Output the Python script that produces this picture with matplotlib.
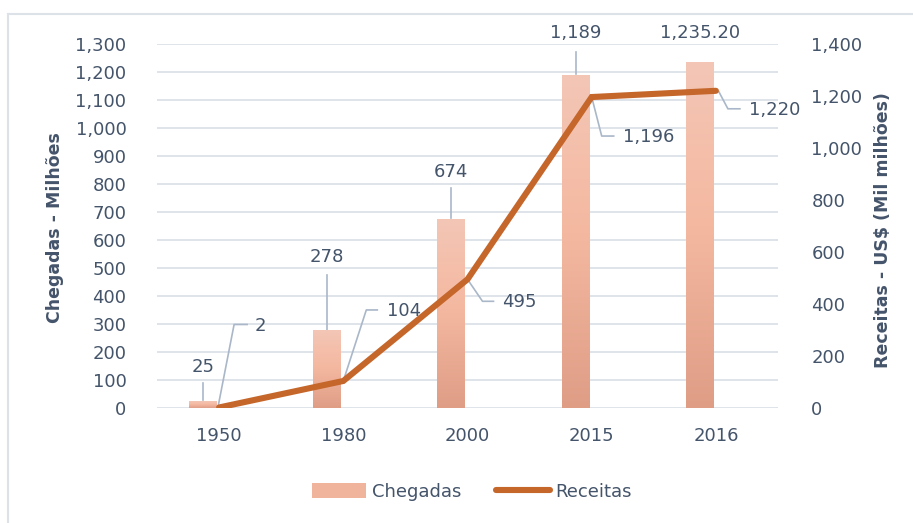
import matplotlib
matplotlib.use("Agg")
import matplotlib.pyplot as plt
import numpy as np
from matplotlib.lines import Line2D
from matplotlib.patches import Patch
from matplotlib.colors import LinearSegmentedColormap

# ---------------- data ----------------
years = ["1950", "1980", "2000", "2015", "2016"]
chegadas = [25, 278, 674, 1189, 1235.20]
receitas = [2, 104, 495, 1196, 1220]
chegadas_labels = ["25", "278", "674", "1,189", "1,235.20"]
receitas_labels = ["2", "104", "495", "1,196", "1,220"]
left_ticks = list(range(0, 1301, 100))
right_ticks = list(range(0, 1401, 200))

TXT = "#44546A"
LINE_C = "#C5662B"
LEAD_C = "#A9B7C9"
GRID_C = "#D9DEE6"
FONT = "DejaVu Sans"
FS = 13

plt.rcParams["font.family"] = [FONT]

W, H = 913, 523
fig = plt.figure(figsize=(W / 100, H / 100), dpi=100)

def px(x0, y0, x1, y1):
    return [x0 / W, 1 - y1 / H, (x1 - x0) / W, (y1 - y0) / H]

ax = fig.add_axes(px(157, 44, 778, 408))
ax2 = ax.twinx()

x = np.arange(len(years))
bw = 0.225
boff = -0.13
bars = ax.bar(x + boff, chegadas, width=bw, color="#F5BAA2", zorder=2)

ax.set_xlim(-0.5, len(years) - 0.5)
ax.set_ylim(0, 1300)
ax2.set_ylim(0, 1400)

# gradient fill inside bars (top -> bottom)
grad = np.linspace(0, 1, 256).reshape(-1, 1)
cmap = LinearSegmentedColormap.from_list(
    "g", [(0.0, "#F3C6B6"), (0.45, "#F5B9A1"), (1.0, "#DF9D86")])
for b in bars:
    x0, w, h = b.get_x(), b.get_width(), b.get_height()
    ax.imshow(grad, extent=[x0, x0 + w, 0, h], origin="upper", cmap=cmap,
              aspect="auto", zorder=2.1, interpolation="bicubic")
ax.set_xlim(-0.5, len(years) - 0.5)
ax.set_ylim(0, 1300)

ax2.plot(x, receitas, color=LINE_C, lw=4.4, solid_capstyle="round",
         solid_joinstyle="miter", zorder=3)

# axes styling
ax.set_yticks(left_ticks)
ax.set_yticklabels([f"{v:,}" for v in left_ticks])
ax2.set_yticks(right_ticks)
ax2.set_yticklabels([f"{v:,}" for v in right_ticks])
ax.set_xticks(x)
ax.set_xticklabels(years)
for a in (ax, ax2):
    for s in a.spines.values():
        s.set_visible(False)
    a.tick_params(length=0, labelsize=FS, labelcolor=TXT)
ax.tick_params(axis="y", pad=22)
ax2.tick_params(axis="y", pad=24)
ax.tick_params(axis="x", pad=14)
ax.grid(axis="y", color=GRID_C, lw=1.2, zorder=0)
ax.set_axisbelow(True)
ax.set_zorder(1)
ax2.set_zorder(2)
ax.patch.set_visible(False)

fig.text(55 / W, 1 - 228 / H, "Chegadas - Milhões", rotation=90, ha="center",
         va="center", fontsize=12.5, fontweight="bold", color=TXT)
fig.text(883 / W, 1 - 230 / H, "Receitas - US$ (Mil milhões)", rotation=90,
         ha="center", va="center", fontsize=12.5, fontweight="bold", color=TXT)

fig.canvas.draw()

def data_from_px(a, xd, yd, dx, dy):
    disp = a.transData.transform((xd, yd))
    return a.transData.inverted().transform((disp[0] + dx, disp[1] - dy))

# bar labels: (text offset dx, dy from bar top-center, leader start dy, leader end dy)
bar_lab = [(0, -34, -18, -1), (0, -73, -55, 0), (0, -47, -31, -1), (0, -42, -23, -1), (0, -29, None, None)]
for i, b in enumerate(bars):
    xc = b.get_x() + b.get_width() / 2
    h = b.get_height()
    tdx, tdy, l0, l1 = bar_lab[i]
    tx, ty = data_from_px(ax, xc, h, tdx, tdy)
    ax.text(tx, ty, chegadas_labels[i], ha="center", va="center", fontsize=FS,
            color=TXT, zorder=5)
    if l0 is not None:
        p0 = data_from_px(ax, xc, h, 0, l0)
        p1 = data_from_px(ax, xc, h, 0, l1)
        ax.plot([p0[0], p1[0]], [p0[1], p1[1]], color=LEAD_C, lw=1.2, zorder=1.5)

# line labels: leader vertices in pixel offsets, text left x offset, text y offset
line_lab = [
    ([(-1, -1), (15, -83), (28, -83)], 36, -81),
    ([(0, 0), (23, -71), (34, -71)], 44, -70),
    ([(0, 0), (15, 22), (26, 22)], 35, 23),
    ([(0, 0), (10, 39), (22, 39)], 31, 40),
    ([(3, 1), (12, 18), (24, 18)], 33, 19),
]
for i in range(len(years)):
    verts, tdx, tdy = line_lab[i]
    pts = [data_from_px(ax2, x[i], receitas[i], dx, dy) for dx, dy in verts]
    ax2.plot([p[0] for p in pts], [p[1] for p in pts], color=LEAD_C, lw=1.2,
             zorder=2.5)
    tx, ty = data_from_px(ax2, x[i], receitas[i], tdx, tdy)
    ax2.text(tx, ty, receitas_labels[i], ha="left", va="center", fontsize=FS,
             color=TXT, zorder=5)

# legend
handles = [Patch(facecolor="#F0B49D", edgecolor="none"),
           Line2D([0], [0], color=LINE_C, lw=4.4, solid_capstyle="round")]
leg = fig.legend(handles, ["Chegadas", "Receitas"], loc="center",
                 bbox_to_anchor=(472 / W, 1 - 492 / H), ncol=2, frameon=False,
                 fontsize=FS, labelcolor=TXT, handlelength=3.0, handleheight=0.9,
                 columnspacing=1.9, handletextpad=0.3)

# outer border (top and left visible)
fig.add_artist(Line2D([8 / W, 1], [1 - 14 / H, 1 - 14 / H], color="#DDE2E8", lw=1.5,
                      transform=fig.transFigure))
fig.add_artist(Line2D([8 / W, 8 / W], [0, 1 - 14 / H], color="#DDE2E8", lw=1.5,
                      transform=fig.transFigure))

fig.savefig("out.png", dpi=100)
